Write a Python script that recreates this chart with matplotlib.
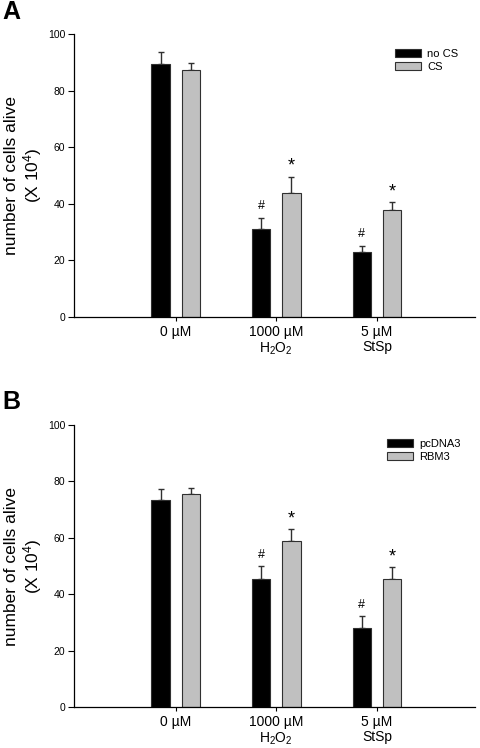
import matplotlib
matplotlib.use("Agg")
import matplotlib.pyplot as plt
import numpy as np
from matplotlib.patches import Patch

plt.rcParams['font.family'] = ['Liberation Sans', 'DejaVu Sans']
plt.rcParams['mathtext.fontset'] = 'custom'
plt.rcParams['mathtext.rm'] = 'Liberation Sans'
plt.rcParams['mathtext.it'] = 'Liberation Sans:italic'
plt.rcParams['mathtext.bf'] = 'Liberation Sans:bold'

categories = ["0 µM", "1000 µM\nH$_2$O$_2$", "5 µM\nStSp"]

# Panel A
a_series = ["no CS", "CS"]
a_black = [89.4, 31.2, 23.1]
a_black_err = [4.2, 3.9, 2.0]
a_gray = [87.2, 43.9, 37.7]
a_gray_err = [2.7, 5.5, 2.8]
a_black_marks = ["", "#", "#"]
a_gray_marks = ["", "*", "*"]

# Panel B
b_series = ["pcDNA3", "RBM3"]
b_black = [73.5, 45.4, 28.1]
b_black_err = [3.8, 4.5, 4.1]
b_gray = [75.4, 58.9, 45.4]
b_gray_err = [2.4, 4.1, 4.1]
b_black_marks = ["", "#", "#"]
b_gray_marks = ["", "*", "*"]

yticks = [0, 20, 40, 60, 80, 100]

BLACK = "#000000"
GRAY = "#c0c0c0"
EDGE = "#303030"

fig = plt.figure(figsize=(4.8, 7.48), dpi=100)

def panel(rect, black, black_err, gray, gray_err, bmarks, gmarks, series, letter, letter_y, leg_pos):
    ax = fig.add_axes(rect)
    x = np.arange(len(categories))
    w = 0.18
    off = 0.15
    ax.bar(x - off, black, w, color=BLACK, edgecolor=EDGE, linewidth=0.8, zorder=2)
    ax.bar(x + off, gray, w, color=GRAY, edgecolor=EDGE, linewidth=0.8, zorder=2)
    ax.errorbar(x - off, black, yerr=[np.zeros(len(black)), black_err], fmt='none',
                ecolor=EDGE, elinewidth=1.0, capsize=2.5, capthick=1.0, zorder=1)
    ax.errorbar(x + off, gray, yerr=[np.zeros(len(gray)), gray_err], fmt='none',
                ecolor=EDGE, elinewidth=1.0, capsize=2.5, capthick=1.0, zorder=1)
    for i in range(len(categories)):
        if bmarks[i]:
            ax.text(x[i] - off, black[i] + black_err[i] + 2.0, bmarks[i], ha='center', va='bottom', fontsize=9)
        if gmarks[i]:
            ax.text(x[i] + off, gray[i] + gray_err[i] + 0.8, gmarks[i], ha='center', va='bottom', fontsize=13)
    ax.set_xlim(-1.01, 2.97)
    ax.set_ylim(0, 100)
    ax.set_yticks(yticks)
    ax.set_xticks(x)
    ax.set_xticklabels(categories, fontsize=10, linespacing=1.1)
    ax.tick_params(axis='y', labelsize=7.5, length=4.3, width=0.8, direction='out', pad=2)
    ax.tick_params(axis='x', length=3, width=0.8, direction='out', pad=3)
    for s in ['top', 'right']:
        ax.spines[s].set_visible(False)
    for s in ['left', 'bottom']:
        ax.spines[s].set_linewidth(0.9)
    ax.set_ylabel("number of cells alive\n(X 10$^4$)", fontsize=12.5, labelpad=3, linespacing=1.1)
    handles = [Patch(facecolor=BLACK, edgecolor=EDGE, linewidth=0.8),
               Patch(facecolor=GRAY, edgecolor=EDGE, linewidth=0.8)]
    fig.legend(handles, series, loc='upper left', bbox_to_anchor=leg_pos,
               frameon=False, fontsize=8, handlelength=2.3, handleheight=0.75,
               handletextpad=0.6, labelspacing=0.25, borderpad=0, borderaxespad=0)
    fig.text(0.004, letter_y, letter, fontsize=18, fontweight='bold', va='top', ha='left')
    return ax

panel([0.154, 0.5762, 0.835, 0.3783], a_black, a_black_err, a_gray, a_gray_err,
      a_black_marks, a_gray_marks, a_series, "A", 1.0, (395/480, 1 - 49/748))
panel([0.154, 0.0548, 0.835, 0.3770], b_black, b_black_err, b_gray, b_gray_err,
      b_black_marks, b_gray_marks, b_series, "B", 1 - 390/748, (387/480, 1 - 439/748))

fig.savefig("out.png", dpi=100)
